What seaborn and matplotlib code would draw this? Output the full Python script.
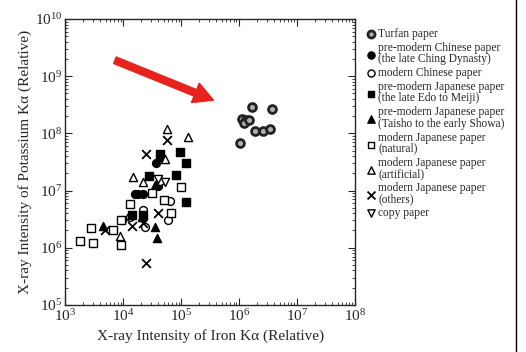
import numpy as np
import pandas as pd
import matplotlib
matplotlib.use('Agg')
import matplotlib.pyplot as plt
from matplotlib.lines import Line2D
from matplotlib.ticker import LogLocator, NullFormatter
import seaborn as sns

# 各组数据 (Fe Ka, K Ka)
turfan_fe = [1.7e6, 3.7e6, 1.1e6, 1.3e6, 1.2e6, 1.9e6, 2.6e6, 3.4e6, 1.05e6, 1.5e6]
turfan_k = [2.9e8, 2.7e8, 1.8e8, 1.7e8, 1.5e8, 1.1e8, 1.1e8, 1.2e8, 6.9e7, 1.7e8]

pm_cn_fe = [3.7e4, 4.4e4, 1.8e4, 2.2e4, 4.0e4, 1.6e4]
pm_cn_k = [3.0e7, 3.9e7, 8.7e6, 8.7e6, 1.2e7, 8.7e6]

mod_cn_fe = [4.3e4, 6.0e4, 6.3e4, 2.4e4, 2.2e4, 9.5e3, 1.3e4]
mod_cn_k = [1.45e7, 3.1e6, 6.6e6, 2.3e6, 4.6e6, 3.1e6, 3.5e6]

pm_jp_fe = [4.3e4, 9.5e4, 1.2e5, 8.1e4, 2.8e4, 1.2e5, 1.4e4, 2.2e4]
pm_jp_k = [4.4e7, 4.8e7, 3.0e7, 1.9e7, 1.8e7, 6.3e6, 3.8e6, 3.8e6]

taisho_fe = [4.5e3, 3.5e4, 3.8e4, 2.1e4, 3.5e4]
taisho_k = [2.4e6, 2.3e6, 1.5e6, 3.5e6, 1.25e7]

natural_fe = [1.8e3, 3.0e3, 2.8e3, 6.6e3, 9.1e3, 1.3e4, 3.2e4, 9.8e4, 5.1e4, 9.3e3, 6.8e4]
natural_k = [1.3e6, 1.2e6, 2.2e6, 2.0e6, 1.1e6, 5.8e6, 9.1e6, 1.15e7, 6.9e6, 3.1e6, 4.0e6]

artificial_fe = [5.8e4, 1.3e5, 1.5e4, 2.2e4, 5.2e4, 8.9e3]
artificial_k = [1.2e8, 8.5e7, 1.7e7, 1.4e7, 3.6e7, 1.6e6]

others_fe = [5.8e4, 2.5e4, 4.0e4, 2.5e4, 4.8e3, 1.4e4, 2.2e4]
others_k = [7.6e7, 4.3e7, 4.0e6, 5.4e5, 2.0e6, 2.4e6, 2.7e6]

copy_fe = [5.2e4, 4.0e4]
copy_k = [1.4e7, 1.6e7]

labels = ['Turfan paper',
          'pre-modern Chinese paper\n(the late Ching Dynasty)',
          'modern Chinese paper',
          'pre-modern Japanese paper\n(the late Edo to Meiji)',
          'pre-modern Japanese paper\n(Taisho to the early Showa)',
          'modern Japanese paper\n(natural)',
          'modern Japanese paper\n(artificial)',
          'modern Japanese paper\n(others)',
          'copy paper']

# 箭头起止点 (数据坐标)
arrow_tail = (7.2e3, 1.9e9)
arrow_head = (3.6e5, 3.8e8)

groups = [(turfan_fe, turfan_k), (pm_cn_fe, pm_cn_k), (mod_cn_fe, mod_cn_k),
          (pm_jp_fe, pm_jp_k), (taisho_fe, taisho_k), (natural_fe, natural_k),
          (artificial_fe, artificial_k), (others_fe, others_k), (copy_fe, copy_k)]

rows = []
for lab, (fe, k) in zip(labels, groups):
    for a, b in zip(fe, k):
        rows.append({'fe': a, 'k': b, 'group': lab})
df = pd.DataFrame(rows)

# 标记样式
styles = {
    labels[0]: dict(marker='o', s=32, facecolor='#b0b0b0', edgecolor='#222222', linewidth=2.0),
    labels[1]: dict(marker='o', s=32, facecolor='black', edgecolor='black', linewidth=1),
    labels[2]: dict(marker='o', s=32, facecolor='white', edgecolor='black', linewidth=1),
    labels[3]: dict(marker='s', s=30, facecolor='black', edgecolor='black', linewidth=1),
    labels[4]: dict(marker='^', s=34, facecolor='black', edgecolor='black', linewidth=1),
    labels[5]: dict(marker='s', s=30, facecolor='white', edgecolor='black', linewidth=1),
    labels[6]: dict(marker='^', s=34, facecolor='white', edgecolor='black', linewidth=1),
    labels[7]: dict(marker='x', s=40, color='black', linewidth=1.3),
    labels[8]: dict(marker='v', s=34, facecolor='white', edgecolor='black', linewidth=1),
}

sns.set_style('ticks')
plt.rcParams['font.family'] = ['Liberation Serif', 'DejaVu Serif']
plt.rcParams['mathtext.fontset'] = 'stix'

fig = plt.figure(figsize=(5.26, 3.52), dpi=100)
ax = fig.add_axes([0.124, 0.134, 0.551, 0.812])

for lab in labels:
    sub = df[df['group'] == lab]
    sns.scatterplot(data=sub, x='fe', y='k', ax=ax, label=lab, zorder=3, **styles[lab])

ax.set_xscale('log')
ax.set_yscale('log')
ax.set_xlim(1e3, 1e8)
ax.set_ylim(1e5, 1e10)
ax.xaxis.set_major_locator(LogLocator(base=10, numticks=10))
ax.yaxis.set_major_locator(LogLocator(base=10, numticks=10))
ax.xaxis.set_minor_locator(LogLocator(base=10, subs=np.arange(2, 10), numticks=20))
ax.yaxis.set_minor_locator(LogLocator(base=10, subs=np.arange(2, 10), numticks=20))
ax.xaxis.set_minor_formatter(NullFormatter())
ax.yaxis.set_minor_formatter(NullFormatter())
ax.tick_params(which='both', direction='in', top=True, right=True, labelsize=11, pad=2)
ax.tick_params(which='major', length=5, width=0.8)
ax.tick_params(which='minor', length=2.5, width=0.6)
for sp in ax.spines.values():
    sp.set_linewidth(1.0)

ax.set_xlabel('X-ray Intensity of Iron Kα (Relative)', fontsize=11, labelpad=4)
ax.set_ylabel('X-ray Intensity of Potassium Kα (Relative)', fontsize=11, labelpad=2)

# 红色箭头
ax.annotate('', xy=arrow_head, xytext=arrow_tail,
            arrowprops=dict(facecolor='#e8231c', edgecolor='#e8231c',
                            width=5, headwidth=15, headlength=14))

leg = ax.legend(loc='upper left', bbox_to_anchor=(1.02, 0.985), frameon=False,
                fontsize=8.3, handletextpad=0.1, labelspacing=0.18,
                handlelength=1.0, borderaxespad=0, markerscale=0.9)
for t in leg.get_texts():
    t.set_linespacing(0.9)

# 右侧边框线
fig.add_artist(Line2D([0.981, 0.981], [0.0, 1.0], color='black', linewidth=1.0))

fig.savefig('out.png', dpi=100)
